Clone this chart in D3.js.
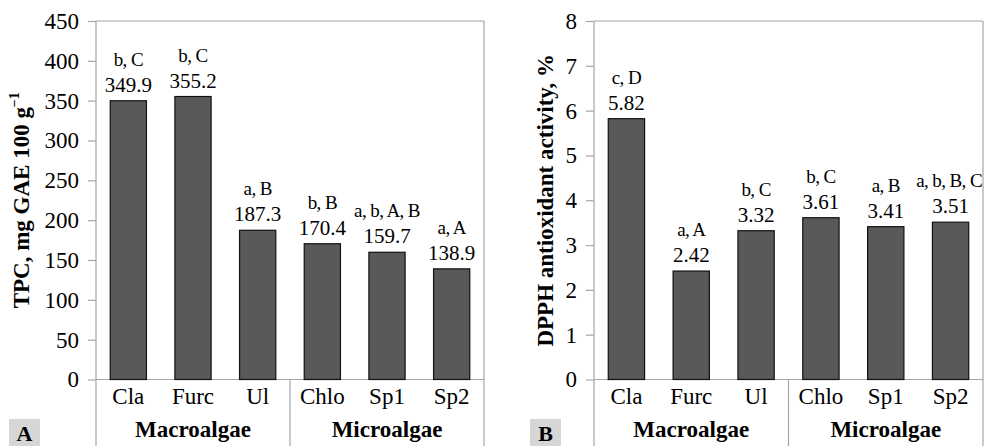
<!DOCTYPE html>
<html>
<head>
<meta charset="utf-8">
<script src="https://cdn.jsdelivr.net/npm/d3@7"></script>
<style>
  html, body { margin: 0; padding: 0; background: #fff; }
  svg { display: block; }
  svg text { font-family: "Liberation Serif", "Times New Roman", "DejaVu Serif", serif; }
</style>
</head>
<body>
<svg id="chart" width="984" height="446"></svg>
<script>
// Sample codes and their algae groups
const categories = ["Cla", "Furc", "Ul", "Chlo", "Sp1", "Sp2"];
const groups = ["Macroalgae", "Microalgae"];

// Total phenolic content, mg GAE 100 g-1
const tpcValues = [349.9, 355.2, 187.3, 170.4, 159.7, 138.9];
const tpcLetters = ["b, C", "b, C", "a, B", "b, B", "a, b, A, B", "a, A"];
const tpcTicks = [0, 50, 100, 150, 200, 250, 300, 350, 400, 450];

// DPPH radical scavenging activity, %
const dpphValues = [5.82, 2.42, 3.32, 3.61, 3.41, 3.51];
const dpphLetters = ["c, D", "a, A", "b, C", "b, C", "a, B", "a, b, B, C"];
const dpphTicks = [0, 1, 2, 3, 4, 5, 6, 7, 8];

const svg = d3.select("#chart");
const serif = "Liberation Serif, Times New Roman, DejaVu Serif, serif";
const axisColor = "#a6a6a6";
const H = 446;

const panels = [
  { id: "A", values: tpcValues, fmt: d3.format(".1f"),
    letters: tpcLetters, ticks: tpcTicks, max: 450,
    left: 96, right: 484, titleX: 21, boxX: 9,
    title: ["TPC, mg GAE 100 g", "\u22121"] },
  { id: "B", values: dpphValues, fmt: d3.format(".2f"),
    letters: dpphLetters, ticks: dpphTicks, max: 8,
    left: 594, right: 983, titleX: 545, boxX: 530,
    title: ["DPPH antioxidant activity, %", null] }
];

const plotTop = 21, plotBottom = 379.5;

panels.forEach(p => {
  const g = svg.append("g").attr("font-family", serif);
  const x = d3.scaleBand().domain(categories).range([p.left, p.right])
    .paddingInner(0.44).paddingOuter(0.22);
  const y = d3.scaleLinear().domain([0, p.max]).range([plotBottom, plotTop]);

  // y axis with outward ticks
  const yAxis = d3.axisLeft(y).tickValues(p.ticks).tickSize(8).tickPadding(9)
    .tickFormat(d3.format("d"));
  const ya = g.append("g").attr("transform", `translate(${p.left},0)`).call(yAxis)
    .attr("font-family", serif).attr("font-size", 23);
  ya.select(".domain").remove();
  ya.selectAll(".tick line").attr("stroke", axisColor).attr("stroke-width", 1.2);
  ya.selectAll(".tick text").attr("fill", "#000");

  // frame: left axis, top border, right border, zero line
  const line = (x1, y1, x2, y2) => g.append("line")
    .attr("x1", x1).attr("y1", y1).attr("x2", x2).attr("y2", y2)
    .attr("stroke", axisColor).attr("stroke-width", 1.2);
  line(p.left, plotTop, p.left, H);
  line(p.right, plotTop, p.right, H);
  line(p.left, plotTop, p.right, plotTop);
  line(p.left, y(0), p.right, y(0));
  // divider between the two algae groups
  const split = p.left + x.step() * 3;
  line(split, y(0), split, H);

  // bars
  g.selectAll("rect.bar").data(p.values).join("rect")
    .attr("class", "bar")
    .attr("x", (d, i) => x(categories[i]))
    .attr("width", x.bandwidth())
    .attr("y", d => y(d))
    .attr("height", d => y(0) - y(d))
    .attr("fill", "#595959").attr("stroke", "#111").attr("stroke-width", 1.2);

  // value labels
  g.selectAll("text.val").data(p.values).join("text")
    .attr("class", "val")
    .attr("x", (d, i) => x(categories[i]) + x.bandwidth() / 2)
    .attr("y", d => y(d) - 9)
    .attr("text-anchor", "middle").attr("font-size", 21)
    .text(d => p.fmt(d));

  // significance letters, nudged inward if they would spill past the frame
  g.selectAll("text.let").data(p.values).join("text")
    .attr("class", "let")
    .attr("x", (d, i) => x(categories[i]) + x.bandwidth() / 2)
    .attr("y", d => y(d) - 35)
    .attr("text-anchor", "middle").attr("font-size", 19)
    .attr("letter-spacing", -0.6)
    .text((d, i) => p.letters[i])
    .each(function () {
      const b = this.getBBox();
      const over = b.x + b.width - (p.right - 1);
      if (over > 0) d3.select(this).attr("x", +d3.select(this).attr("x") - over);
    });

  // category labels
  g.selectAll("text.cat").data(categories).join("text")
    .attr("class", "cat")
    .attr("x", d => x(d) + x.bandwidth() / 2)
    .attr("y", 404)
    .attr("text-anchor", "middle").attr("font-size", 23)
    .text(d => d);

  // group labels
  g.selectAll("text.grp").data(groups).join("text")
    .attr("class", "grp")
    .attr("x", (d, i) => i === 0 ? (p.left + split) / 2 : (split + p.right) / 2)
    .attr("y", 437)
    .attr("text-anchor", "middle").attr("font-size", 23).attr("font-weight", "bold")
    .text(d => d);

  // y axis title
  const t = g.append("text")
    .attr("transform", `translate(${p.titleX},${(plotTop + plotBottom) / 2}) rotate(-90)`)
    .attr("text-anchor", "middle").attr("font-size", 23).attr("font-weight", "bold")
    .attr("dy", "0.35em");
  t.append("tspan").text(p.title[0]);
  if (p.title[1]) {
    t.append("tspan").attr("font-size", 14).attr("dy", "-0.75em").text(p.title[1]);
  }

  // panel letter
  g.append("rect").attr("x", p.boxX).attr("y", 419).attr("width", 31).attr("height", 27)
    .attr("fill", "#d6d6d6");
  g.append("text").attr("x", p.boxX + 15.5).attr("y", 441)
    .attr("text-anchor", "middle").attr("font-size", 22).attr("font-weight", "bold")
    .text(p.id);
});
</script>
</body>
</html>
